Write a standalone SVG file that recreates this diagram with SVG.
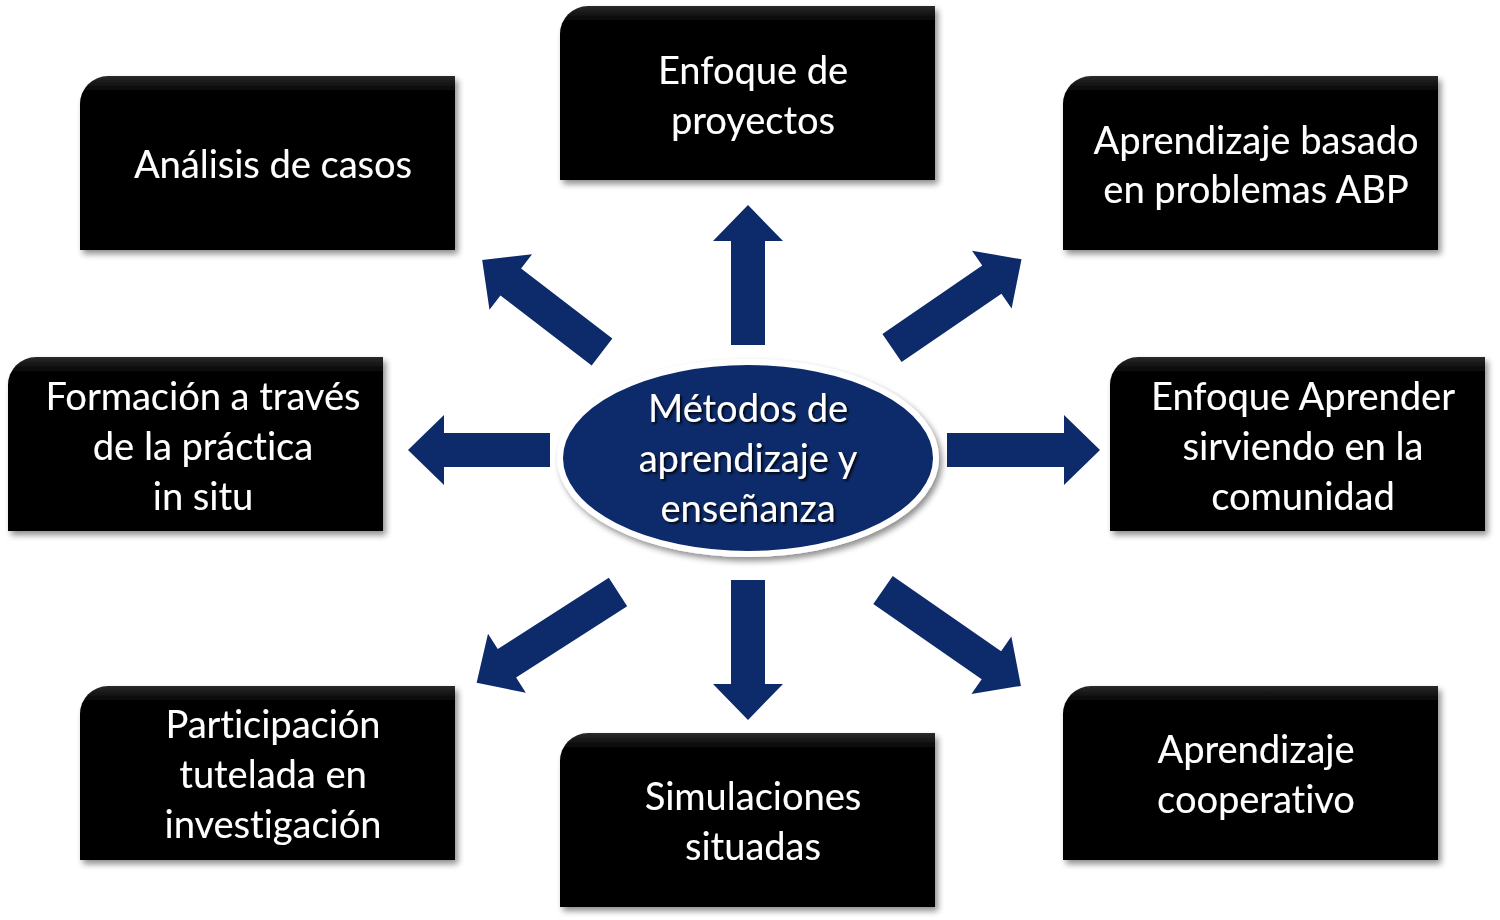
<svg xmlns="http://www.w3.org/2000/svg" width="1500" height="920" viewBox="0 0 1500 920">
<defs>
<filter id="sh" x="-10%" y="-10%" width="125%" height="130%">
<feGaussianBlur in="SourceAlpha" stdDeviation="3"/>
<feOffset dx="3" dy="4" result="b"/>
<feComponentTransfer><feFuncA type="linear" slope="0.45"/></feComponentTransfer>
<feMerge><feMergeNode/><feMergeNode in="SourceGraphic"/></feMerge>
</filter>
<filter id="tsh" x="-10%" y="-20%" width="120%" height="150%">
<feGaussianBlur in="SourceAlpha" stdDeviation="1.2"/>
<feOffset dx="2" dy="2"/>
<feComponentTransfer><feFuncA type="linear" slope="0.8"/></feComponentTransfer>
<feMerge><feMergeNode/><feMergeNode in="SourceGraphic"/></feMerge>
</filter>
<linearGradient id="boxg" x1="0" y1="0" x2="0" y2="1">
<stop offset="0" stop-color="#2a2a2a"/>
<stop offset="0.08" stop-color="#060606"/>
<stop offset="1" stop-color="#040404"/>
</linearGradient>
<path id="box" d="M28,0 H375 V174 H0 V28 A28,28 0 0 1 28,0 Z"/>
</defs>
<style>
.bx{fill:url(#boxg);filter:url(#sh)}
.t{font-family:"Lato","Open Sans",sans-serif;font-size:38px;fill:#ffffff;text-anchor:middle;filter:url(#tsh);font-variant-ligatures:none;font-feature-settings:"liga" 0,"dlig" 0}
.ar{fill:#0d2a6b}
</style>
<rect width="1500" height="920" fill="#ffffff"/>

<g id="connectors">
<polygon class="ar" transform="translate(748,345) rotate(-90)" points="0,-17 104,-17 104,-35 140,0 104,35 104,17 0,17"/>
<polygon class="ar" transform="translate(748,580) rotate(90)" points="0,-17 104,-17 104,-35 140,0 104,35 104,17 0,17"/>
<polygon class="ar" transform="translate(550,450) rotate(180)" points="0,-17 106,-17 106,-35 142,0 106,35 106,17 0,17"/>
<polygon class="ar" transform="translate(947,450)" points="0,-17 117,-17 117,-35 153,0 117,35 117,17 0,17"/>
<polygon class="ar" transform="translate(602,352) rotate(217.5)" points="0,-17 115,-17 115,-35 151,0 115,35 115,17 0,17"/>
<polygon class="ar" transform="translate(892,348) rotate(-34.4)" points="0,-17 121,-17 121,-35 157,0 121,35 121,17 0,17"/>
<polygon class="ar" transform="translate(618,592) rotate(147.3)" points="0,-17 132,-17 132,-35 168,0 132,35 132,17 0,17"/>
<polygon class="ar" transform="translate(883,590) rotate(34.8)" points="0,-17 132,-17 132,-35 168,0 132,35 132,17 0,17"/>
</g>

<g id="center">
<ellipse cx="748" cy="458" rx="188" ry="96" fill="#0d2a6b" stroke="#ffffff" stroke-width="6" filter="url(#sh)"/>
<text class="t" x="748" y="422">Métodos de</text>
<text class="t" x="748" y="472">aprendizaje y</text>
<text class="t" x="748" y="522">enseñanza</text>
</g>

<g id="n-analisis">
<use href="#box" class="bx" transform="translate(80,76)"/>
<text class="t" x="273" y="178">Análisis de casos</text>
</g>
<g id="n-proyectos">
<use href="#box" class="bx" transform="translate(560,6)"/>
<text class="t" x="753" y="84">Enfoque de</text>
<text class="t" x="753" y="134">proyectos</text>
</g>
<g id="n-abp">
<use href="#box" class="bx" transform="translate(1063,76)"/>
<text class="t" x="1256" y="154">Aprendizaje basado</text>
<text class="t" x="1256" y="203">en problemas ABP</text>
</g>
<g id="n-formacion">
<use href="#box" class="bx" transform="translate(8,357)"/>
<text class="t" x="203" y="410">Formación a través</text>
<text class="t" x="203" y="460">de la práctica</text>
<text class="t" x="203" y="510">in situ</text>
</g>
<g id="n-servicio">
<use href="#box" class="bx" transform="translate(1110,357)"/>
<text class="t" x="1303" y="410">Enfoque Aprender</text>
<text class="t" x="1303" y="460">sirviendo en la</text>
<text class="t" x="1303" y="510">comunidad</text>
</g>
<g id="n-participacion">
<use href="#box" class="bx" transform="translate(80,686)"/>
<text class="t" x="273" y="738">Participación</text>
<text class="t" x="273" y="788">tutelada en</text>
<text class="t" x="273" y="838">investigación</text>
</g>
<g id="n-simulaciones">
<use href="#box" class="bx" transform="translate(560,733)"/>
<text class="t" x="753" y="810">Simulaciones</text>
<text class="t" x="753" y="860">situadas</text>
</g>
<g id="n-cooperativo">
<use href="#box" class="bx" transform="translate(1063,686)"/>
<text class="t" x="1256" y="763">Aprendizaje</text>
<text class="t" x="1256" y="813">cooperativo</text>
</g>
</svg>
